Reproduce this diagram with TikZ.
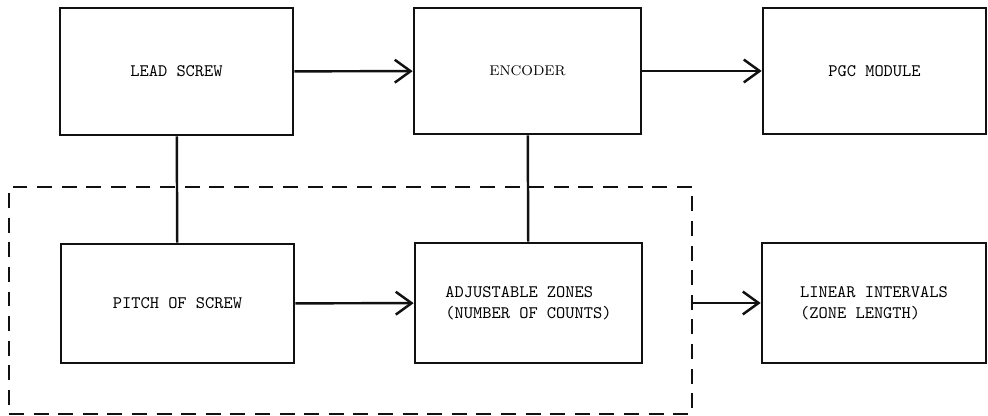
\documentclass[tikz,border=0pt]{standalone}
\usetikzlibrary{arrows.meta}
\definecolor{ink}{HTML}{111111}

\begin{document}
\begin{tikzpicture}[
    every node/.style={font=\ttfamily},
    box/.style={rectangle, draw=ink, line width=1.5pt, inner sep=0pt, align=center},
    zonebox/.style={rectangle, draw=ink, line width=1.1pt, dash pattern=on 8.5pt off 5.5pt, inner sep=0pt},
    flow/.style={draw=ink, line width=1.4pt, -{Straight Barb[length=9pt, width=13pt, line width=1.4pt]}},
    link/.style={draw=ink, line width=1.4pt},
]
\useasboundingbox (0, 0) rectangle (19.76, 8.32);

% ============================================================ zone group
\node[zonebox, minimum width=13.66cm, minimum height=4.54cm] (zone) at (7.01, 2.31) {};

% ============================================================ top row
\node[box, minimum width=4.66cm, minimum height=2.54cm] (lead) at (3.53, 6.89) {LEAD SCREW};
\node[box, minimum width=4.54cm, minimum height=2.52cm, font=\rmfamily\footnotesize] (enc) at (10.55, 6.90) {ENCODER};
\node[box, minimum width=4.46cm, minimum height=2.52cm] (pgc) at (17.49, 6.90) {PGC MODULE};

% ============================================================ bottom row
\node[box, minimum width=4.66cm, minimum height=2.38cm] (pitch) at (3.55, 2.25) {PITCH OF SCREW};
\node[box, minimum width=4.54cm, minimum height=2.40cm, align=left] (adj) at (10.57, 2.26)
    {ADJUSTABLE ZONES\\(NUMBER OF COUNTS)};
\node[box, minimum width=4.48cm, minimum height=2.40cm, align=left] (lin) at (17.48, 2.26)
    {LINEAR INTERVALS\\(ZONE LENGTH)};

% ============================================================ connectors
\draw[flow] (lead) -- (enc);
\draw[flow] (enc) -- (pgc);
\draw[flow] (pitch) -- (adj);
\draw[flow] (zone.east |- lin.west) -- (lin.west);
\draw[link] (lead) -- (pitch);
\draw[link] (enc) -- (adj);

\end{tikzpicture}
\end{document}
